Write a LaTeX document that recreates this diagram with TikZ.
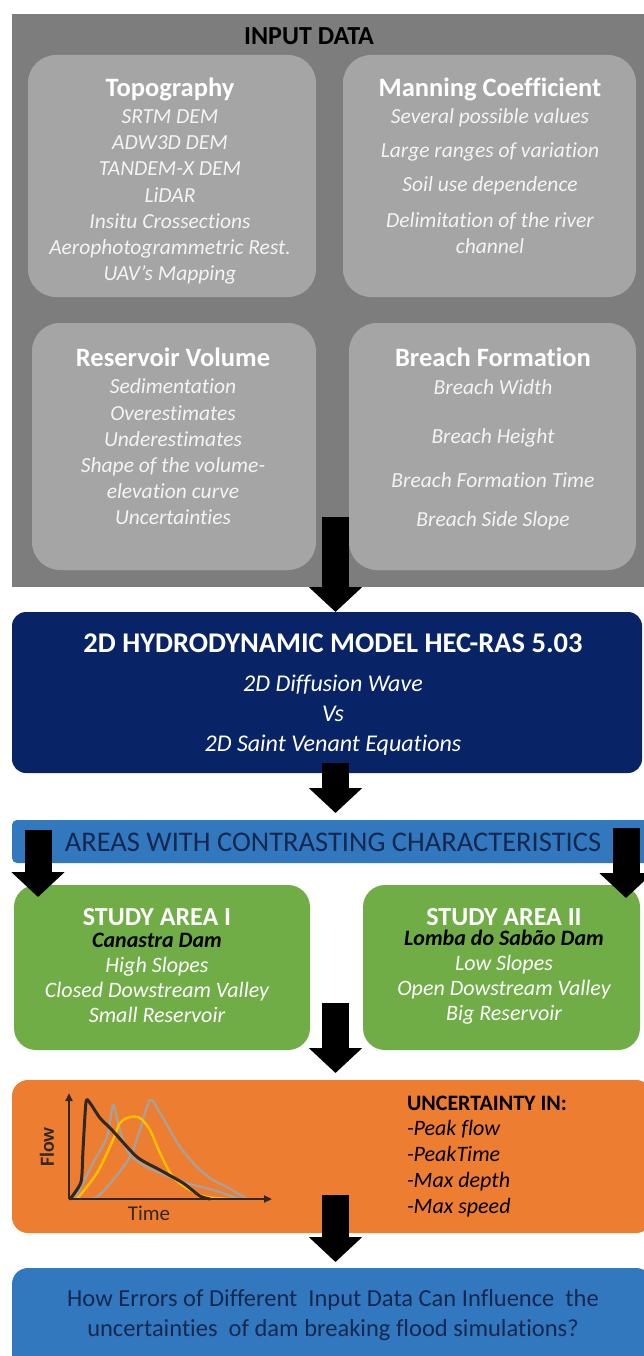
\documentclass[tikz,border=0pt]{standalone}
\usepackage{fontspec}
\setmainfont{Carlito}[Ligatures={NoCommon}]
\usetikzlibrary{arrows.meta}
\definecolor{panelgray}{RGB}{125,125,125}
\definecolor{boxgray}{RGB}{165,165,165}
\definecolor{itemtext}{RGB}{244,244,244}
\definecolor{navy}{RGB}{8,36,102}
\definecolor{barblue}{RGB}{50,120,190}
\definecolor{darknavy}{RGB}{22,40,80}
\definecolor{greenbox}{RGB}{112,173,71}
\definecolor{orangebox}{RGB}{237,125,49}
\definecolor{chartdark}{RGB}{50,40,35}
\definecolor{curvegray}{RGB}{170,160,150}
\definecolor{curveyellow}{RGB}{255,192,0}
\newcommand{\fsz}[2]{\fontsize{#1}{#2}\selectfont}
\tikzset{
  boxbase/.style={inner sep=0pt, outer sep=0pt, draw=none},
  inbox/.style={boxbase, fill=boxgray, rounded corners=28pt},
  txt/.style={inner sep=0pt, outer sep=0pt, align=center, text=white},
  ttl/.style={txt, font=\bfseries\fsz{26.5}{30}},
  itm/.style={txt, text=itemtext, font=\itshape\fsz{21.5}{26.2}},
  bigarrow/.style={draw=black, line width=27pt, line cap=butt,
    -{Triangle[width=52pt,length=25pt]}},
  axisline/.style={draw=chartdark, line width=2pt, -{Triangle[width=7pt,length=8pt]}},
  curve/.style={line width=2.4pt, line join=round, line cap=round}
}
\begin{document}
\begin{tikzpicture}[x=1pt,y=-1pt]
\useasboundingbox (0,0) rectangle (644,1356);
\fill[white] (0,0) rectangle (644,1356);

% ---------- INPUT DATA panel ----------
\node[boxbase, fill=panelgray, anchor=north west, minimum width=640pt, minimum height=573pt] (panel) at (12,14) {};
\node[txt, text=black, font=\bfseries\fsz{26}{28}] (paneltitle) at (309,36) {INPUT DATA};

\node[inbox, anchor=north west, minimum width=288pt, minimum height=242pt] (topo) at (28,55) {};
\node[inbox, anchor=north west, minimum width=293pt, minimum height=242pt] (mann) at (343,55) {};
\node[inbox, anchor=north west, minimum width=284pt, minimum height=247pt] (resv) at (32,323) {};
\node[inbox, anchor=north west, minimum width=287pt, minimum height=247pt] (brch) at (349,323) {};

\node[ttl] (topot) at (170,89) {Topography};
\node[itm] (topoi) at (170,197) {SRTM DEM\\ADW3D DEM\\TANDEM-X DEM\\LiDAR\\Insitu Crossections\\Aerophotogrammetric Rest.\\UAV's Mapping};

\node[ttl] (mannt) at (490,89) {Manning Coefficient};
\node[itm] (manni1) at (490,118) {Several possible values};
\node[itm] (manni2) at (490,152) {Large ranges of variation};
\node[itm] (manni3) at (490,186) {Soil use dependence};
\node[itm] (manni4) at (490,233) {Delimitation of the river\\channel};

\node[ttl] (resvt) at (173,357) {Reservoir Volume};
\node[itm] (resvi) at (173,452) {Sedimentation\\Overestimates\\Underestimates\\Shape of the volume-\\elevation curve\\Uncertainties};

\node[ttl] (brcht) at (493,357) {Breach Formation};
\node[itm] (brchi1) at (493,387) {Breach Width};
\node[itm] (brchi2) at (493,438) {Breach Height};
\node[itm] (brchi3) at (493,480) {Breach Formation Time};
\node[itm] (brchi4) at (493,521) {Breach Side Slope};

% ---------- Model box ----------
\node[boxbase, fill=navy, rounded corners=14pt, anchor=north west, minimum width=630pt, minimum height=161pt] (model) at (12,612) {};
\node[txt, font=\bfseries\fsz{28.5}{30}] (modelt) at (333,643) {2D HYDRODYNAMIC MODEL HEC-RAS 5.03};
\node[txt, font=\itshape\fsz{24}{30}] (modeli) at (333,715) {2D Diffusion Wave\\Vs\\2D Saint Venant Equations};

% ---------- Areas bar ----------
\node[boxbase, fill=barblue, rounded corners=5pt, anchor=north west, minimum width=640pt, minimum height=43pt] (areas) at (12,820) {};
\node[txt, text=darknavy, font=\fsz{28.5}{30}] (areast) at (333,842) {AREAS WITH CONTRASTING CHARACTERISTICS};

% ---------- Study areas ----------
\node[boxbase, fill=greenbox, rounded corners=22pt, anchor=north west, minimum width=296pt, minimum height=165pt] (sa1) at (14,885) {};
\node[boxbase, fill=greenbox, rounded corners=22pt, anchor=north west, minimum width=277pt, minimum height=165pt] (sa2) at (363,885) {};
\node[txt, font=\bfseries\fsz{26}{30}] (sa1t) at (157,917) {STUDY AREA I};
\node[txt, font=\itshape\fsz{22}{25}] (sa1i) at (157,977.5) {{\bfseries\color{black}Canastra Dam}\\High Slopes\\Closed Dowstream Valley\\Small Reservoir};
\node[txt, font=\bfseries\fsz{26}{30}] (sa2t) at (504,917) {STUDY AREA II};
\node[txt, font=\itshape\fsz{22}{25}] (sa2i) at (504,977.5) {{\bfseries\color{black}Lomba do Sabão Dam}\\Low Slopes\\Open Dowstream Valley\\Big Reservoir};

% ---------- Orange box ----------
\node[boxbase, fill=orangebox, rounded corners=16pt, anchor=north west, minimum width=640pt, minimum height=153pt] (unc) at (12,1080) {};
\node[txt, text=black, anchor=west, font=\bfseries\fsz{22}{26}] (unct) at (407,1103) {UNCERTAINTY IN:};
\node[txt, text=black, anchor=west, align=left, font=\itshape\fsz{22}{26}] (unci) at (407,1169) {-Peak flow\\-PeakTime\\-Max depth\\-Max speed};

% chart
\coordinate (org) at (69,1199);
\coordinate (ytop) at (69,1093);
\coordinate (xend) at (272,1199);
\draw[curve, curvegray] plot[smooth, tension=0.5] coordinates {(83,1199) (97,1197) (113,1180) (130,1157) (140,1130) (150,1100) (160,1113) (170,1130) (180,1147) (197,1167) (213,1180) (227,1187) (247,1199)};
\draw[curve, curvegray] plot[smooth, tension=0.5] coordinates {(75,1199) (93,1163) (107,1137) (113,1105) (118,1123) (127,1150) (140,1163) (160,1173) (187,1183) (213,1190) (240,1199)};
\draw[curve, curveyellow] plot[smooth, tension=0.5] coordinates {(77,1199) (97,1173) (113,1140) (120,1123) (130,1117) (140,1118) (150,1130) (160,1153) (173,1177) (190,1190) (207,1197) (233,1199)};
\draw[curve, chartdark, line width=3pt] plot[smooth, tension=0.4] coordinates {(70,1199) (81,1182) (83,1150) (86,1102) (90,1103) (100,1118) (112,1130) (137,1157) (160,1170) (183,1183) (200,1196) (210,1199)};
\draw[axisline] (org) -- (ytop);
\draw[axisline] (org) -- (xend);
\node[txt, text=chartdark, rotate=90, font=\bfseries\fsz{20}{22}] (flowlbl) at (47,1147) {Flow};
\node[txt, text=chartdark, font=\fsz{21}{24}] (timelbl) at (149,1213) {Time};

% ---------- Bottom box ----------
\node[boxbase, fill=barblue, rounded corners=16pt, anchor=north west, minimum width=640pt, minimum height=110pt] (quest) at (12,1268) {};
\node[txt, text=darknavy, font=\fsz{24.5}{30}] (questt) at (333,1315) {How Errors of Different\ \ Input Data Can Influence\ \ the\\uncertainties\ \ of dam breaking flood simulations?};

% ---------- Block arrows ----------
\coordinate (a1s) at (335.5,517);
\coordinate (a2s) at (335.5,763);
\coordinate (a2e) at (335.5,813);
\coordinate (aLs) at (38,830);
\coordinate (aLe) at (38,897);
\coordinate (aRs) at (626,828);
\coordinate (aRe) at (626,898);
\coordinate (a3s) at (335.5,1003);
\coordinate (a3e) at (335.5,1073);
\coordinate (a4s) at (335.5,1195);
\coordinate (a4e) at (335.5,1262);
\draw[bigarrow] (a1s) -- (a1s |- model.north);
\draw[bigarrow] (a2s) -- (a2e);
\draw[bigarrow] (aLs) -- (aLe);
\draw[bigarrow] (aRs) -- (aRe);
\draw[bigarrow] (a3s) -- (a3e);
\draw[bigarrow] (a4s) -- (a4e);
\end{tikzpicture}
\end{document}
